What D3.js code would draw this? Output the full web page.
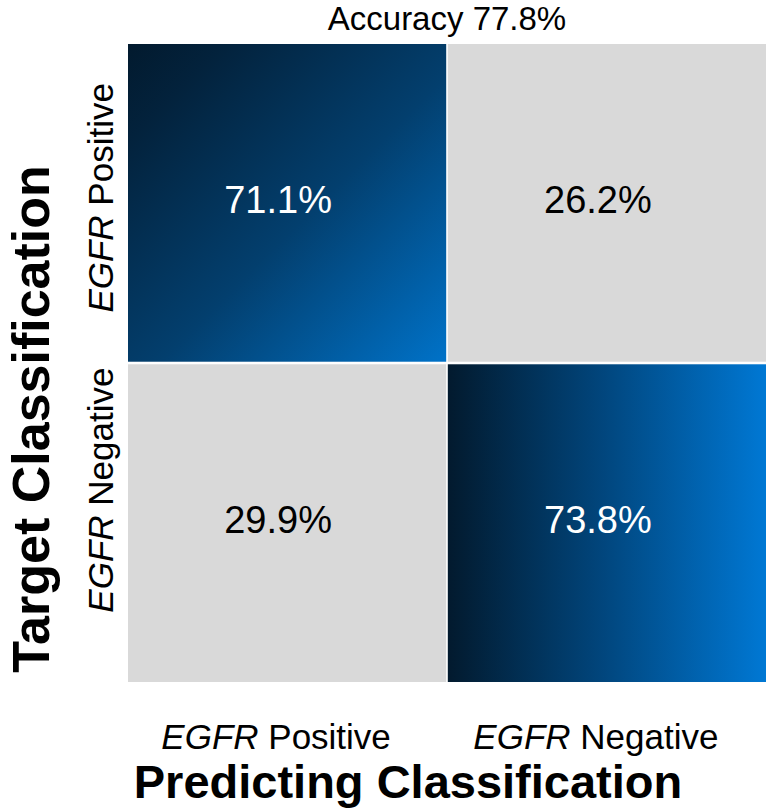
<!DOCTYPE html>
<html>
<head>
<meta charset="utf-8">
<script src="https://cdn.jsdelivr.net/npm/d3@7"></script>
<style>
  body { margin: 0; background: #fff; }
  text { font-family: "Liberation Sans", Arial, sans-serif; }
</style>
</head>
<body>
<svg id="chart"></svg>
<script>
// confusion matrix data
const targetClasses = ["Positive", "Negative"];      // rows
const predictedClasses = ["Positive", "Negative"];   // columns
const cellValues = [
  [71.1, 26.2],
  [29.9, 73.8]
];
const accuracy = 77.8;

const width = 767, height = 811;
const margin = { top: 44, right: 1, bottom: 129, left: 128 };

const svg = d3.select("#chart")
  .attr("width", width)
  .attr("height", height);

const x = d3.scaleBand()
  .domain(predictedClasses)
  .range([margin.left, width - margin.right])
  .paddingInner(0.005);

const y = d3.scaleBand()
  .domain(targetClasses)
  .range([margin.top, height - margin.bottom])
  .paddingInner(0.008);

// gradients for the diagonal (correct) cells
const defs = svg.append("defs");
const gDiag = defs.append("linearGradient")
  .attr("id", "gradDiag")
  .attr("x1", 0).attr("y1", 0).attr("x2", 1).attr("y2", 1);
gDiag.append("stop").attr("offset", 0).attr("stop-color", "#021a2e");
gDiag.append("stop").attr("offset", 0.15).attr("stop-color", "#03223c");
gDiag.append("stop").attr("offset", 0.55).attr("stop-color", "#033f6e");
gDiag.append("stop").attr("offset", 1).attr("stop-color", "#0072c8");

const gHoriz = defs.append("linearGradient")
  .attr("id", "gradHoriz")
  .attr("x1", 0).attr("y1", 0).attr("x2", 1).attr("y2", 0);
gHoriz.append("stop").attr("offset", 0).attr("stop-color", "#021a2e");
gHoriz.append("stop").attr("offset", 0.5).attr("stop-color", "#01477f");
gHoriz.append("stop").attr("offset", 1).attr("stop-color", "#0078d4");

const cells = [];
targetClasses.forEach((t, i) => {
  predictedClasses.forEach((p, j) => {
    cells.push({ target: t, predicted: p, value: cellValues[i][j], diag: i === j, row: i });
  });
});

function cellFill(d) {
  if (!d.diag) return "#d9d9d9";
  return d.row === 0 ? "url(#gradDiag)" : "url(#gradHoriz)";
}

svg.append("g")
  .selectAll("rect")
  .data(cells)
  .join("rect")
  .attr("x", d => x(d.predicted))
  .attr("y", d => y(d.target))
  .attr("width", x.bandwidth())
  .attr("height", y.bandwidth())
  .attr("fill", cellFill);

svg.append("g")
  .selectAll("text")
  .data(cells)
  .join("text")
  .attr("x", d => x(d.predicted) + x.bandwidth() / 2 - 9)
  .attr("y", d => y(d.target) + y.bandwidth() / 2 - 3)
  .attr("text-anchor", "middle")
  .attr("dominant-baseline", "central")
  .attr("font-size", 38)
  .attr("fill", d => d.diag ? "#fff" : "#000")
  .text(d => d.value.toFixed(1) + "%");

// title
svg.append("text")
  .attr("x", (margin.left + width - margin.right) / 2)
  .attr("y", 30)
  .attr("text-anchor", "middle")
  .attr("font-size", 33)
  .text("Accuracy " + accuracy.toFixed(1) + "%");

// bottom tick labels
const xLabels = svg.append("g")
  .selectAll("text")
  .data(predictedClasses)
  .join("text")
  .attr("x", d => x(d) + x.bandwidth() / 2 - 11)
  .attr("y", 749)
  .attr("text-anchor", "middle")
  .attr("font-size", 35);
xLabels.append("tspan").attr("font-style", "italic").text("EGFR");
xLabels.append("tspan").text(d => " " + d);

// left tick labels
const yLabelOffset = { Positive: -5, Negative: -33 };
const yLabels = svg.append("g")
  .selectAll("text")
  .data(targetClasses)
  .join("text")
  .attr("transform", d => `translate(113,${y(d) + y.bandwidth() / 2 + yLabelOffset[d]}) rotate(-90)`)
  .attr("text-anchor", "middle")
  .attr("font-size", 35);
yLabels.append("tspan").attr("font-style", "italic").text("EGFR");
yLabels.append("tspan").text(d => " " + d);

// axis titles
svg.append("text")
  .attr("x", 408)
  .attr("y", 798)
  .attr("text-anchor", "middle")
  .attr("font-size", 47)
  .attr("font-weight", "bold")
  .text("Predicting Classification");

svg.append("text")
  .attr("transform", `translate(49,419) rotate(-90)`)
  .attr("text-anchor", "middle")
  .attr("font-size", 52)
  .attr("font-weight", "bold")
  .text("Target Classification");
</script>
</body>
</html>
